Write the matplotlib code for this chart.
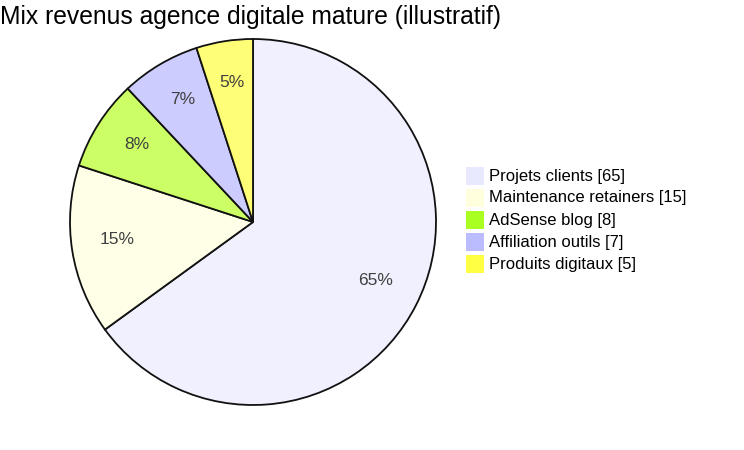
import matplotlib
matplotlib.use('Agg')
import matplotlib.pyplot as plt
import matplotlib.transforms as mtransforms
from matplotlib.patches import Rectangle

plt.rcParams['font.family'] = ['Liberation Sans', 'DejaVu Sans']

# Data
labels = ['Projets clients', 'Maintenance retainers', 'AdSense blog', 'Affiliation outils', 'Produits digitaux']
values = [65, 15, 8, 7, 5]
slice_colors = ['#F0F0FF', '#FFFFE8', '#CCFF66', '#CCCCFF', '#FFFF77']
legend_colors = ['#E8E8FF', '#FFFFDD', '#AAFF22', '#BBBBFF', '#FFFF44']
title = 'Mix revenus agence digitale mature (illustratif)'

W, H = 744, 450
fig = plt.figure(figsize=(W / 100, H / 100), dpi=100)

# pie centre (253, 222) px, radius 183 px
cx, cy, r = 253, 222, 183
ax = fig.add_axes([(cx - r) / W, (H - cy - r) / H, 2 * r / W, 2 * r / H])
wedges, texts, autotexts = ax.pie(
    values, colors=slice_colors, startangle=90, counterclock=False,
    autopct='%1.0f%%', pctdistance=0.75, radius=1.0,
    wedgeprops=dict(edgecolor='#111111', linewidth=1.3),
    textprops=dict(color='#404040', fontsize=12.5))
# nudge the percentage labels up a few pixels
shift = mtransforms.offset_copy(ax.transData, fig=fig, x=0, y=4, units='dots')
for t in autotexts:
    t.set_transform(shift)
ax.set_xlim(-1, 1)
ax.set_ylim(-1, 1)
ax.set_aspect('equal')
ax.axis('off')

fig.text(0, 1 - 17 / H, title, fontsize=17.7, ha='left', va='center', color='black')

# legend
for i, (lab, val) in enumerate(zip(labels, legend_colors)):
    y = 176 + 22 * i
    fig.add_artist(Rectangle((466 / W, 1 - (y + 9) / H), 18 / W, 18 / H,
                             transform=fig.transFigure, facecolor=val, edgecolor='none'))
    fig.text(489 / W, 1 - y / H, '%s [%d]' % (lab, values[i]), fontsize=12,
             ha='left', va='center', color='black')

fig.savefig('out.png', dpi=100)
